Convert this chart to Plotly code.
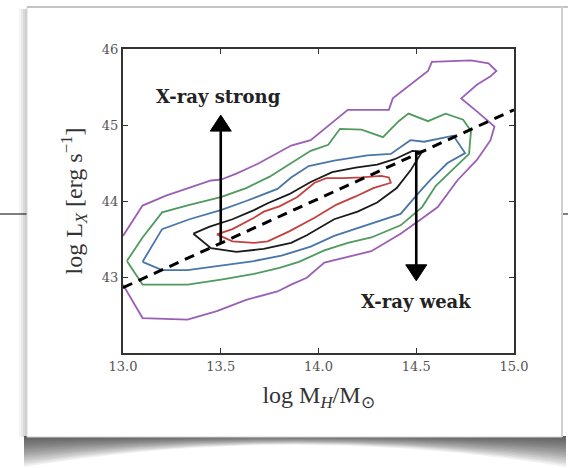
import plotly.graph_objects as go

# ---- contour levels (log M_H, log L_X) ----
purple_x = [13.0, 13.10, 13.22, 13.34, 13.45, 13.50, 13.58, 13.69, 13.79, 13.86, 13.96, 14.15, 14.36, 14.38,
            14.56, 14.58, 14.78, 14.87, 14.91, 14.88, 14.81, 14.73, 14.81, 14.90, 14.88, 14.81, 14.71, 14.61,
            14.54, 14.42, 14.27, 14.15, 14.03, 13.94, 13.86, 13.79, 13.63, 13.48, 13.33, 13.10, 13.0]
purple_y = [43.54, 43.94, 44.07, 44.17, 44.27, 44.28, 44.36, 44.49, 44.63, 44.73, 44.80, 45.20, 45.20, 45.35,
            45.71, 45.83, 45.85, 45.81, 45.71, 45.64, 45.53, 45.35, 45.18, 44.98, 44.80, 44.54, 44.27, 43.92,
            43.79, 43.57, 43.34, 43.26, 43.19, 42.99, 42.90, 42.81, 42.70, 42.55, 42.44, 42.46, 42.90]

green_x = [13.02, 13.10, 13.20, 13.34, 13.50, 13.63, 13.75, 13.86, 13.96, 14.05, 14.11, 14.22, 14.33, 14.41,
           14.46, 14.56, 14.65, 14.74, 14.78, 14.77, 14.68, 14.60, 14.53, 14.42, 14.27, 14.15, 14.03, 13.90,
           13.80, 13.67, 13.51, 13.33, 13.10, 13.02]
green_y = [43.21, 43.52, 43.85, 43.95, 44.05, 44.17, 44.32, 44.50, 44.66, 44.74, 44.95, 44.94, 44.84, 45.05,
           45.15, 45.05, 45.15, 45.07, 44.92, 44.62, 44.40, 44.20, 43.92, 43.68, 43.52, 43.45, 43.35, 43.20,
           43.12, 43.04, 42.97, 42.90, 42.90, 43.21]

blue_x = [13.10, 13.20, 13.34, 13.50, 13.63, 13.79, 13.86, 13.95, 14.08, 14.25, 14.37, 14.47, 14.54, 14.62,
          14.69, 14.75, 14.66, 14.57, 14.51, 14.42, 14.27, 14.08, 13.96, 13.81, 13.67, 13.51, 13.33, 13.20, 13.10]
blue_y = [43.20, 43.63, 43.76, 43.88, 44.00, 44.16, 44.31, 44.46, 44.53, 44.60, 44.62, 44.80, 44.78, 44.82,
          44.86, 44.63, 44.50, 44.27, 44.10, 43.83, 43.70, 43.54, 43.40, 43.28, 43.21, 43.15, 43.09, 43.09, 43.20]

black_x = [13.36, 13.44, 13.56, 13.67, 13.74, 13.85, 13.96, 14.07, 14.19, 14.30, 14.39, 14.48, 14.53, 14.47,
           14.40, 14.30, 14.20, 14.08, 13.94, 13.86, 13.72, 13.58, 13.45, 13.36]
black_y = [43.57, 43.66, 43.76, 43.88, 43.97, 44.09, 44.25, 44.38, 44.44, 44.48, 44.55, 44.66, 44.65, 44.40,
           44.17, 43.98, 43.86, 43.76, 43.55, 43.45, 43.37, 43.33, 43.38, 43.57]

red_x = [13.48, 13.56, 13.67, 13.74, 13.85, 13.98, 14.09, 14.19, 14.28, 14.37, 14.36, 14.32, 14.22, 14.13,
         14.04, 13.98, 13.89, 13.80, 13.72, 13.67, 13.56, 13.48]
red_y = [43.56, 43.47, 43.45, 43.47, 43.60, 43.78, 43.95, 44.06, 44.17, 44.24, 44.31, 44.33, 44.31, 44.30,
         44.30, 44.24, 44.05, 43.93, 43.86, 43.78, 43.63, 43.56]

# mean relation (dashed)
fit_x = [13.0, 15.0]
fit_y = [42.86, 45.20]

# arrows: (x, tail y, tip y)
strong_arrow = (13.5, 43.45, 45.13)
weak_arrow = (14.5, 44.66, 42.95)

x_ticks = [13.0, 13.5, 14.0, 14.5, 15.0]
y_ticks = [43, 44, 45, 46]
x_range = [13.0, 15.0]
y_range = [42.0, 46.0]

W, H = 568, 468
ML, MR, MT, MB = 123, 54, 49, 115
PW, PH = W - ML - MR, H - MT - MB


def px(x):
    return (x - ML) / PW


def py(y):
    return (H - MB - y) / PH


# pixel size of one data unit, used to give the arrow heads a fixed on-screen size
UX = PW / (x_range[1] - x_range[0])
UY = PH / (y_range[1] - y_range[0])
HEAD_HALF_W, HEAD_LEN = 10.5, 16.0

levels = [
    (purple_x, purple_y, "#9a5fb5"),
    (green_x, green_y, "#4f9a5e"),
    (blue_x, blue_y, "#4876a8"),
    (black_x, black_y, "#1a1a1a"),
    (red_x, red_y, "#c2413e"),
]

fig = go.Figure()
for xs, ys, col in levels:
    fig.add_trace(go.Scatter(x=xs, y=ys, mode="lines", line=dict(color=col, width=1.8),
                             hoverinfo="skip", showlegend=False))

fig.add_trace(go.Scatter(x=fit_x, y=fit_y, mode="lines",
                         line=dict(color="black", width=3, dash="10px,7px"),
                         hoverinfo="skip", showlegend=False))

for ax_x, tail, tip in (strong_arrow, weak_arrow):
    sgn = 1 if tip > tail else -1
    base = tip - sgn * HEAD_LEN / UY
    fig.add_trace(go.Scatter(x=[ax_x, ax_x], y=[tail, base], mode="lines",
                             line=dict(color="black", width=2.6), hoverinfo="skip", showlegend=False))
    dx = HEAD_HALF_W / UX
    fig.add_trace(go.Scatter(x=[ax_x - dx, ax_x + dx, ax_x, ax_x - dx], y=[base, base, tip, base],
                             mode="lines", fill="toself", fillcolor="black",
                             line=dict(color="black", width=1), hoverinfo="skip", showlegend=False))

label_font = dict(family="DejaVu Serif", size=18, color="#222")
annotations = [
    dict(x=13.49, y=45.37, xref="x", yref="y", text="<b>X-ray strong</b>", showarrow=False, font=label_font),
    dict(x=14.5, y=42.68, xref="x", yref="y", text="<b>X-ray weak</b>", showarrow=False, font=label_font),
]

shapes = []
# backdrop rule line
shapes.append(dict(type="line", xref="paper", yref="paper", x0=px(0), x1=px(W), y0=py(214), y1=py(214),
                   line=dict(color="#555", width=1.5), layer="below"))
# soft shadow along the left edge of the card
for x0, x1, a in ((19, 31, 0.04), (21, 30, 0.05), (23, 29, 0.06), (25, 28, 0.06)):
    shapes.append(dict(type="rect", xref="paper", yref="paper", x0=px(x0), x1=px(x1), y0=py(437), y1=py(9),
                       fillcolor="rgba(0,0,0,{})".format(a), line=dict(width=0), layer="below"))
# curled shadow under the card: many faint layers give a smooth fade
n_layers = 16
for i in range(n_layers):
    depth = 31 * (1 - i / n_layers)
    sag = depth * 0.72
    path = "M {:.4f},{:.4f} L {:.4f},{:.4f} L {:.4f},{:.4f} Q {:.4f},{:.4f} {:.4f},{:.4f} Z".format(
        px(24), py(436), px(566), py(436), px(566), py(436 + depth),
        px(295), py(436 + depth - 2 * sag), px(24), py(436 + depth))
    shapes.append(dict(type="path", xref="paper", yref="paper", path=path,
                       fillcolor="rgba(0,0,0,0.055)", line=dict(width=0), layer="below"))
# the card itself
shapes.append(dict(type="rect", xref="paper", yref="paper", x0=px(27), x1=px(562), y0=py(437), y1=py(7),
                   fillcolor="white", line=dict(color="#d6d6d6", width=1), layer="below"))
shapes.append(dict(type="line", xref="paper", yref="paper", x0=px(27), x1=px(568), y0=py(7), y1=py(7),
                   line=dict(color="#c4c4c4", width=2), layer="below"))
shapes.append(dict(type="line", xref="paper", yref="paper", x0=px(562), x1=px(562), y0=py(437), y1=py(7),
                   line=dict(color="#d0d0d0", width=2), layer="below"))

tick_font = dict(family="DejaVu Serif", size=13, color="#555")
axis_common = dict(showline=True, linecolor="#333", linewidth=2, mirror="allticks", ticks="inside",
                   ticklen=5, tickwidth=1, tickcolor="#333", showgrid=False, zeroline=False,
                   tickfont=tick_font)
title_font = dict(family="Liberation Serif", size=24, color="#333")

fig.update_layout(
    width=W, height=H,
    margin=dict(l=ML, r=MR, t=MT, b=MB, autoexpand=False),
    paper_bgcolor="white", plot_bgcolor="rgba(0,0,0,0)",
    xaxis=dict(range=x_range, tickvals=x_ticks, ticktext=[f"{v:.1f}" for v in x_ticks],
               title=dict(text="log M<sub><i>H</i></sub>/M<sub>⊙</sub>", font=title_font, standoff=14),
               **axis_common),
    yaxis=dict(range=y_range, tickvals=y_ticks, ticktext=[str(v) for v in y_ticks],
               title=dict(text="log L<sub><i>X</i></sub> [erg s<sup>−1</sup>]", font=title_font, standoff=12),
               **axis_common),
    annotations=annotations,
    shapes=shapes,
)

fig.write_html("out.html")
